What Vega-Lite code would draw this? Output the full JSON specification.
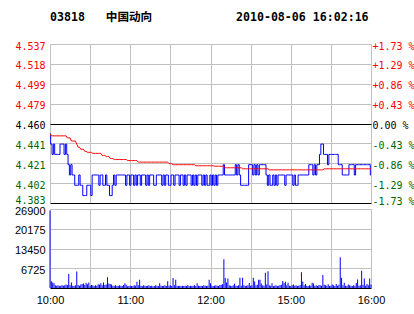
{
"$schema": "https://vega.github.io/schema/vega-lite/v6.json",
"background": "white",
"padding": {"left": 5, "top": 12, "right": 0, "bottom": 0},
"autosize": {"type": "pad"},
"config": {"view": {"stroke": null}, "axis": {"title": null}},
"spacing": 6,
"bounds": "flush",
"data": {"values": [
{"m":0,"p":4.45,"a":4.45,"v":26400},{"m":1,"p":4.44,"a":4.448,"v":2300},{"m":2,"p":4.43,"a":4.448,"v":1900},{"m":3,"p":4.44,"a":4.448,"v":1600},{"m":4,"p":4.43,"a":4.448,"v":900},{"m":5,"p":4.43,"a":4.448,"v":800},{"m":6,"p":4.43,"a":4.448,"v":900},{"m":7,"p":4.43,"a":4.448,"v":700},{"m":8,"p":4.44,"a":4.448,"v":800},{"m":9,"p":4.44,"a":4.448,"v":1000},
{"m":10,"p":4.44,"a":4.448,"v":800},{"m":11,"p":4.43,"a":4.448,"v":900},{"m":12,"p":4.44,"a":4.448,"v":1200},{"m":13,"p":4.43,"a":4.446,"v":1000},{"m":14,"p":4.42,"a":4.446,"v":4800},{"m":15,"p":4.41,"a":4.446,"v":900},{"m":16,"p":4.42,"a":4.443,"v":1900},{"m":17,"p":4.41,"a":4.443,"v":800},{"m":18,"p":4.41,"a":4.443,"v":700},{"m":19,"p":4.40,"a":4.443,"v":900},
{"m":20,"p":4.40,"a":4.440,"v":5600},{"m":21,"p":4.40,"a":4.437,"v":1000},{"m":22,"p":4.41,"a":4.437,"v":800},{"m":23,"p":4.40,"a":4.435,"v":1200},{"m":24,"p":4.40,"a":4.435,"v":1400},{"m":25,"p":4.39,"a":4.435,"v":1500},{"m":26,"p":4.39,"a":4.433,"v":1100},{"m":27,"p":4.39,"a":4.433,"v":1800},{"m":28,"p":4.40,"a":4.432,"v":1300},{"m":29,"p":4.40,"a":4.432,"v":1900},
{"m":30,"p":4.40,"a":4.432,"v":800},{"m":31,"p":4.39,"a":4.432,"v":1000},{"m":32,"p":4.41,"a":4.431,"v":900},{"m":33,"p":4.41,"a":4.431,"v":700},{"m":34,"p":4.41,"a":4.431,"v":900},{"m":35,"p":4.41,"a":4.431,"v":800},{"m":36,"p":4.41,"a":4.431,"v":1300},{"m":37,"p":4.40,"a":4.431,"v":1100},{"m":38,"p":4.41,"a":4.431,"v":1600},{"m":39,"p":4.41,"a":4.429,"v":900},
{"m":40,"p":4.40,"a":4.429,"v":1900},{"m":41,"p":4.40,"a":4.429,"v":1000},{"m":42,"p":4.41,"a":4.428,"v":1200},{"m":43,"p":4.40,"a":4.428,"v":3700},{"m":44,"p":4.40,"a":4.428,"v":1500},{"m":45,"p":4.39,"a":4.426,"v":1400},{"m":46,"p":4.39,"a":4.426,"v":1200},{"m":47,"p":4.40,"a":4.426,"v":800},{"m":48,"p":4.41,"a":4.425,"v":800},{"m":49,"p":4.40,"a":4.425,"v":900},
{"m":50,"p":4.41,"a":4.425,"v":700},{"m":51,"p":4.41,"a":4.425,"v":800},{"m":52,"p":4.41,"a":4.425,"v":900},{"m":53,"p":4.41,"a":4.425,"v":800},{"m":54,"p":4.41,"a":4.425,"v":700},{"m":55,"p":4.41,"a":4.425,"v":1000},{"m":56,"p":4.41,"a":4.425,"v":1600},{"m":57,"p":4.40,"a":4.425,"v":1100},{"m":58,"p":4.41,"a":4.424,"v":600},{"m":59,"p":4.41,"a":4.424,"v":700},
{"m":60,"p":4.40,"a":4.424,"v":800},{"m":61,"p":4.41,"a":4.424,"v":700},{"m":62,"p":4.41,"a":4.424,"v":700},{"m":63,"p":4.40,"a":4.424,"v":900},{"m":64,"p":4.41,"a":4.424,"v":800},{"m":65,"p":4.40,"a":4.424,"v":2100},{"m":66,"p":4.41,"a":4.4225,"v":900},{"m":67,"p":4.41,"a":4.4225,"v":2800},{"m":68,"p":4.40,"a":4.4225,"v":800},{"m":69,"p":4.41,"a":4.4225,"v":700},
{"m":70,"p":4.41,"a":4.4225,"v":900},{"m":71,"p":4.41,"a":4.4225,"v":800},{"m":72,"p":4.40,"a":4.4225,"v":700},{"m":73,"p":4.41,"a":4.4225,"v":800},{"m":74,"p":4.40,"a":4.4225,"v":900},{"m":75,"p":4.41,"a":4.4225,"v":700},{"m":76,"p":4.41,"a":4.4225,"v":800},{"m":77,"p":4.41,"a":4.4225,"v":600},{"m":78,"p":4.40,"a":4.4225,"v":700},{"m":79,"p":4.40,"a":4.4225,"v":900},
{"m":80,"p":4.41,"a":4.4225,"v":800},{"m":81,"p":4.41,"a":4.4225,"v":700},{"m":82,"p":4.41,"a":4.4225,"v":1600},{"m":83,"p":4.41,"a":4.4225,"v":800},{"m":84,"p":4.40,"a":4.4225,"v":700},{"m":85,"p":4.41,"a":4.4225,"v":800},{"m":86,"p":4.40,"a":4.4225,"v":900},{"m":87,"p":4.41,"a":4.4225,"v":700},{"m":88,"p":4.41,"a":4.4225,"v":2300},{"m":89,"p":4.40,"a":4.421,"v":800},
{"m":90,"p":4.40,"a":4.421,"v":900},{"m":91,"p":4.41,"a":4.421,"v":700},{"m":92,"p":4.41,"a":4.420,"v":3400},{"m":93,"p":4.40,"a":4.420,"v":900},{"m":94,"p":4.41,"a":4.420,"v":2800},{"m":95,"p":4.41,"a":4.420,"v":800},{"m":96,"p":4.41,"a":4.420,"v":700},{"m":97,"p":4.40,"a":4.420,"v":800},{"m":98,"p":4.41,"a":4.420,"v":700},{"m":99,"p":4.41,"a":4.420,"v":800},
{"m":100,"p":4.40,"a":4.420,"v":700},{"m":101,"p":4.41,"a":4.420,"v":800},{"m":102,"p":4.40,"a":4.420,"v":700},{"m":103,"p":4.41,"a":4.420,"v":900},{"m":104,"p":4.41,"a":4.420,"v":700},{"m":105,"p":4.41,"a":4.420,"v":800},{"m":106,"p":4.40,"a":4.420,"v":700},{"m":107,"p":4.41,"a":4.420,"v":800},{"m":108,"p":4.40,"a":4.420,"v":900},{"m":109,"p":4.41,"a":4.419,"v":700},
{"m":110,"p":4.40,"a":4.419,"v":1600},{"m":111,"p":4.41,"a":4.419,"v":800},{"m":112,"p":4.41,"a":4.419,"v":700},{"m":113,"p":4.41,"a":4.419,"v":800},{"m":114,"p":4.40,"a":4.419,"v":700},{"m":115,"p":4.41,"a":4.419,"v":900},{"m":116,"p":4.40,"a":4.419,"v":800},{"m":117,"p":4.41,"a":4.419,"v":700},{"m":118,"p":4.40,"a":4.419,"v":800},{"m":119,"p":4.40,"a":4.419,"v":2800},
{"m":120,"p":4.41,"a":4.419,"v":1600},{"m":121,"p":4.40,"a":4.419,"v":800},{"m":122,"p":4.41,"a":4.419,"v":700},{"m":123,"p":4.40,"a":4.4185,"v":800},{"m":124,"p":4.41,"a":4.4185,"v":900},{"m":125,"p":4.40,"a":4.4185,"v":800},{"m":126,"p":4.41,"a":4.4185,"v":700},{"m":127,"p":4.41,"a":4.4185,"v":1000},{"m":128,"p":4.41,"a":4.4185,"v":1100},{"m":129,"p":4.41,"a":4.4185,"v":1300},
{"m":130,"p":4.42,"a":4.4185,"v":9800},{"m":131,"p":4.41,"a":4.417,"v":3400},{"m":132,"p":4.41,"a":4.417,"v":1900},{"m":133,"p":4.41,"a":4.417,"v":3200},{"m":134,"p":4.41,"a":4.417,"v":900},{"m":135,"p":4.41,"a":4.417,"v":800},{"m":136,"p":4.41,"a":4.417,"v":700},{"m":137,"p":4.41,"a":4.417,"v":900},{"m":138,"p":4.41,"a":4.417,"v":1500},{"m":139,"p":4.42,"a":4.417,"v":800},
{"m":140,"p":4.41,"a":4.417,"v":700},{"m":141,"p":4.42,"a":4.417,"v":900},{"m":142,"p":4.41,"a":4.417,"v":3500},{"m":143,"p":4.40,"a":4.417,"v":800},{"m":144,"p":4.40,"a":4.416,"v":3500},{"m":145,"p":4.40,"a":4.416,"v":900},{"m":146,"p":4.40,"a":4.416,"v":700},{"m":147,"p":4.40,"a":4.416,"v":800},{"m":148,"p":4.40,"a":4.416,"v":900},{"m":149,"p":4.42,"a":4.416,"v":1700},
{"m":150,"p":4.42,"a":4.416,"v":800},{"m":151,"p":4.42,"a":4.416,"v":900},{"m":152,"p":4.41,"a":4.416,"v":3500},{"m":153,"p":4.42,"a":4.416,"v":2200},{"m":154,"p":4.41,"a":4.416,"v":900},{"m":155,"p":4.42,"a":4.416,"v":1100},{"m":156,"p":4.41,"a":4.416,"v":2800},{"m":157,"p":4.42,"a":4.416,"v":2800},{"m":158,"p":4.42,"a":4.416,"v":1500},{"m":159,"p":4.42,"a":4.416,"v":900},
{"m":160,"p":4.42,"a":4.416,"v":800},{"m":161,"p":4.42,"a":4.416,"v":5200},{"m":162,"p":4.41,"a":4.416,"v":1200},{"m":163,"p":4.40,"a":4.416,"v":5700},{"m":164,"p":4.41,"a":4.415,"v":900},{"m":165,"p":4.40,"a":4.415,"v":800},{"m":166,"p":4.40,"a":4.415,"v":1600},{"m":167,"p":4.41,"a":4.415,"v":700},{"m":168,"p":4.40,"a":4.415,"v":800},{"m":169,"p":4.41,"a":4.415,"v":900},
{"m":170,"p":4.40,"a":4.415,"v":700},{"m":171,"p":4.41,"a":4.415,"v":800},{"m":172,"p":4.41,"a":4.415,"v":1000},{"m":173,"p":4.41,"a":4.415,"v":1100},{"m":174,"p":4.41,"a":4.415,"v":2400},{"m":175,"p":4.41,"a":4.415,"v":1700},{"m":176,"p":4.40,"a":4.415,"v":2100},{"m":177,"p":4.41,"a":4.415,"v":900},{"m":178,"p":4.41,"a":4.415,"v":1800},{"m":179,"p":4.41,"a":4.415,"v":800},
{"m":180,"p":4.41,"a":4.415,"v":700},{"m":181,"p":4.41,"a":4.415,"v":900},{"m":182,"p":4.40,"a":4.415,"v":1200},{"m":183,"p":4.41,"a":4.415,"v":800},{"m":184,"p":4.40,"a":4.415,"v":900},{"m":185,"p":4.40,"a":4.415,"v":700},{"m":186,"p":4.41,"a":4.415,"v":800},{"m":187,"p":4.41,"a":4.415,"v":1000},{"m":188,"p":4.41,"a":4.415,"v":5400},{"m":189,"p":4.41,"a":4.415,"v":2200},
{"m":190,"p":4.41,"a":4.415,"v":900},{"m":191,"p":4.41,"a":4.415,"v":1400},{"m":192,"p":4.41,"a":4.415,"v":800},{"m":193,"p":4.41,"a":4.415,"v":700},{"m":194,"p":4.42,"a":4.415,"v":900},{"m":195,"p":4.42,"a":4.415,"v":800},{"m":196,"p":4.42,"a":4.415,"v":1800},{"m":197,"p":4.41,"a":4.415,"v":1500},{"m":198,"p":4.42,"a":4.415,"v":800},{"m":199,"p":4.41,"a":4.415,"v":900},
{"m":200,"p":4.42,"a":4.415,"v":700},{"m":201,"p":4.42,"a":4.415,"v":1000},{"m":202,"p":4.43,"a":4.415,"v":900},{"m":203,"p":4.44,"a":4.415,"v":800},{"m":204,"p":4.44,"a":4.415,"v":4400},{"m":205,"p":4.43,"a":4.416,"v":1100},{"m":206,"p":4.43,"a":4.416,"v":900},{"m":207,"p":4.43,"a":4.416,"v":800},{"m":208,"p":4.42,"a":4.416,"v":1300},{"m":209,"p":4.43,"a":4.416,"v":700},
{"m":210,"p":4.43,"a":4.416,"v":800},{"m":211,"p":4.43,"a":4.416,"v":1200},{"m":212,"p":4.43,"a":4.416,"v":900},{"m":213,"p":4.43,"a":4.416,"v":700},{"m":214,"p":4.43,"a":4.416,"v":1400},{"m":215,"p":4.43,"a":4.416,"v":800},{"m":216,"p":4.42,"a":4.416,"v":1100},{"m":217,"p":4.42,"a":4.416,"v":10500},{"m":218,"p":4.42,"a":4.416,"v":3500},{"m":219,"p":4.41,"a":4.416,"v":900},
{"m":220,"p":4.41,"a":4.416,"v":1800},{"m":221,"p":4.41,"a":4.416,"v":800},{"m":222,"p":4.41,"a":4.416,"v":700},{"m":223,"p":4.41,"a":4.416,"v":1200},{"m":224,"p":4.42,"a":4.416,"v":900},{"m":225,"p":4.42,"a":4.416,"v":800},{"m":226,"p":4.42,"a":4.416,"v":700},{"m":227,"p":4.42,"a":4.416,"v":900},{"m":228,"p":4.41,"a":4.416,"v":800},{"m":229,"p":4.42,"a":4.416,"v":1700},
{"m":230,"p":4.42,"a":4.416,"v":2900},{"m":231,"p":4.42,"a":4.416,"v":800},{"m":232,"p":4.42,"a":4.416,"v":900},{"m":233,"p":4.42,"a":4.416,"v":5900},{"m":234,"p":4.42,"a":4.416,"v":1100},{"m":235,"p":4.42,"a":4.416,"v":3200},{"m":236,"p":4.42,"a":4.416,"v":800},{"m":237,"p":4.42,"a":4.416,"v":1400},{"m":238,"p":4.42,"a":4.416,"v":900},{"m":239,"p":4.42,"a":4.416,"v":3200},
{"m":240,"p":4.41,"a":4.416,"v":1200}
]},
"vconcat": [
{
"width": 321, "height": 159,
"title": {"text": "03818\u00a0\u00a0\u00a0中国动向\u00a0\u00a0\u00a0\u00a0\u00a0\u00a0\u00a0\u00a0\u00a0\u00a0\u00a0\u00a02010-08-06 16:02:16", "anchor": "start", "frame": "group", "font": "DejaVu Sans Mono, Noto Sans CJK SC", "fontSize": 11.6, "fontWeight": "bold", "color": "#000000", "offset": 8, "baseline": "alphabetic"},
"layer": [
{"mark": {"type": "line", "color": "#0000ff", "strokeWidth": 1, "interpolate": "step"},
 "encoding": {
  "x": {"field": "m", "type": "quantitative", "scale": {"domain": [0, 240], "nice": false, "zero": false, "padding": 0},
        "axis": {"values": [0,30,60,90,120,150,180,210,240], "labels": false, "ticks": false, "domain": false, "grid": true, "gridColor": "#c0c0c0", "gridOpacity": 1, "minExtent": 0, "maxExtent": 0}},
  "y": {"field": "p", "type": "quantitative", "scale": {"domain": [4.3828, 4.5372], "nice": false, "zero": false},
        "axis": {"orient": "left", "values": [4.3828,4.4021,4.4214,4.4407,4.46,4.4793,4.4986,4.5179,4.5372], "format": ".3f", "grid": true,
                 "gridColor": {"condition": {"test": "datum.value < 4.39 || abs(datum.value - 4.46) < 0.001", "value": "#000000"}, "value": "#c0c0c0"}, "gridOpacity": 1,
                 "ticks": false, "domain": false, "labelFont": "DejaVu Sans Mono", "labelFontSize": 10,
                 "labelColor": {"condition": [{"test": "datum.value > 4.465", "value": "#ff0000"}, {"test": "datum.value < 4.455", "value": "#006600"}], "value": "#000000"},
                 "labelPadding": 5, "labelOffset": {"condition": {"test": "datum.value < 4.39", "value": -3}, "value": 2}, "minExtent": 45, "maxExtent": 45}}
 }},
{"mark": {"type": "line", "color": "#ff0000", "strokeWidth": 1},
 "encoding": {
  "x": {"field": "m", "type": "quantitative"},
  "y": {"field": "a", "type": "quantitative", "scale": {"domain": [4.3828, 4.5372], "nice": false, "zero": false},
        "axis": {"orient": "right", "values": [4.3828,4.4021,4.4214,4.4407,4.46,4.4793,4.4986,4.5179,4.5372], "grid": false,
                 "labelExpr": "(datum.value > 4.465 ? '+' : datum.value < 4.455 ? '-' : '\u00a0') + format(floor(abs(datum.value - 4.46) / 4.46 * 10000 + 0.001) / 100, '.2f') + ' %'",
                 "ticks": false, "domain": false, "labelFont": "DejaVu Sans Mono", "labelFontSize": 10,
                 "labelColor": {"condition": [{"test": "datum.value > 4.465", "value": "#ff0000"}, {"test": "datum.value < 4.455", "value": "#006600"}], "value": "#000000"},
                 "labelPadding": 1, "labelOffset": {"condition": {"test": "datum.value < 4.39", "value": -2}, "value": 2}}}
 }}
],
"resolve": {"axis": {"y": "independent"}}
},
{
"width": 321, "height": 79,
"mark": {"type": "bar", "color": "#0000ff", "size": 1},
"encoding": {
  "x": {"field": "m", "type": "quantitative", "scale": {"domain": [0, 240], "nice": false, "zero": false, "padding": 0},
        "axis": {"values": [0,30,60,90,120,150,180,210,240], "labelExpr": "datum.value == 0 ? '10:00' : datum.value == 60 ? '11:00' : datum.value == 120 ? '12:00' : datum.value == 180 ? '15:00' : datum.value == 240 ? '16:00' : ''",
                 "ticks": false, "domain": false, "grid": true, "gridColor": "#c0c0c0", "gridOpacity": 1, "labelFont": "Liberation Sans", "labelFontSize": 11, "labelColor": "#000000", "labelPadding": 6, "labelFlush": false, "labelOverlap": false, "labelBound": false}},
  "y": {"field": "v", "type": "quantitative", "scale": {"domain": [0, 26900], "nice": false, "zero": true},
        "axis": {"values": [0, 6725, 13450, 20175, 26900], "format": "d", "labelExpr": "datum.value == 0 ? '' : datum.label", "grid": true,
                 "gridColor": {"condition": {"test": "datum.value == 0", "value": "#000000"}, "value": "#c0c0c0"}, "gridOpacity": 1,
                 "ticks": false, "domain": false, "labelFont": "Liberation Sans", "labelFontSize": 11, "labelColor": "#000000",
                 "labelPadding": 5, "labelOffset": 2, "minExtent": 45, "maxExtent": 45}}
}
}
]
}
